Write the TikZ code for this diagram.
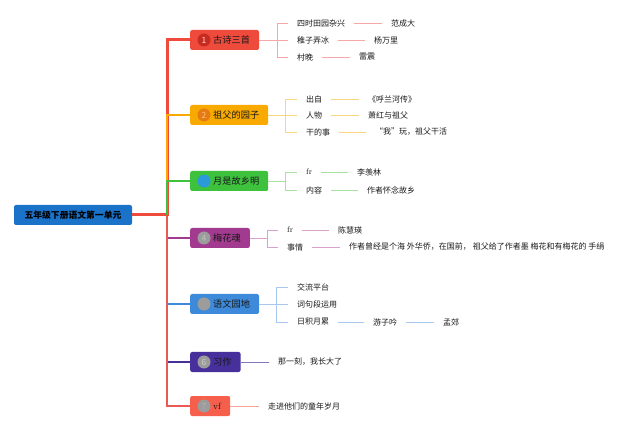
\documentclass[tikz,border=0pt]{standalone}
\usepackage{fontspec}
\newfontfamily\cjk{Noto Sans CJK SC}
\definecolor{rootblue}{HTML}{1A72C9}
\definecolor{cA}{HTML}{EF4B3D}
\definecolor{cAd}{HTML}{C72A1E}
\definecolor{cAl}{HTML}{F4A8A8}
\definecolor{cB}{HTML}{F8AA00}
\definecolor{cBd}{HTML}{E57C12}
\definecolor{cBl}{HTML}{F8D67E}
\definecolor{cC}{HTML}{3EC23E}
\definecolor{cCd}{HTML}{2A9AD8}
\definecolor{cCl}{HTML}{A8E0A2}
\definecolor{cD}{HTML}{A23A8F}
\definecolor{cDl}{HTML}{D8A2CC}
\definecolor{cE}{HTML}{3D8ADA}
\definecolor{cEl}{HTML}{A8C8EE}
\definecolor{cF}{HTML}{47309B}
\definecolor{cFl}{HTML}{8477C0}
\definecolor{cG}{HTML}{F55F4B}
\definecolor{cGl}{HTML}{F6A496}
\definecolor{dotgray}{HTML}{9C9C9C}
\tikzset{
  root/.style={fill=rootblue, rounded corners=2pt, minimum width=118pt, minimum height=20pt,
    inner sep=0pt, font=\cjk\bfseries\fontsize{8.8}{10}\selectfont, text=black},
  topic/.style={anchor=west, rounded corners=2pt, minimum height=20pt, inner xsep=9pt,
    inner ysep=0pt, font=\cjk\fontsize{9.2}{10}\selectfont, text=black!90},
  dot/.style={circle, minimum size=13pt, inner sep=0pt, font=\cjk\fontsize{8.5}{9}\selectfont},
  leaf/.style={anchor=west, inner xsep=5pt, inner ysep=2pt, font=\cjk\fontsize{8}{9}\selectfont, text=black!90},
  link/.style={shorten <=4pt, shorten >=4pt, line width=0.8pt},
  brace/.style={line width=0.8pt, shorten >=4pt},
}
\begin{document}
\begin{tikzpicture}[x=1pt,y=-1pt]
  \useasboundingbox (0,0) rectangle (640,430);
  % root and the seven topics
  \node[root] (root) at (73,215) {五年级下册语文第一单元};
  \coordinate (hub) at (167,215);
  \node[topic, fill=cA] (t1) at (190,40) {\hspace{14pt}古诗三首};
  \node[topic, fill=cB] (t2) at (190,115) {\hspace{14pt}祖父的园子};
  \node[topic, fill=cC] (t3) at (190,181) {\hspace{14pt}月是故乡明};
  \node[topic, fill=cD] (t4) at (190,238) {\hspace{14pt}梅花魂};
  \node[topic, fill=cE] (t5) at (190,304) {\hspace{14pt}语文园地};
  \node[topic, fill=cF] (t6) at (190,362) {\hspace{14pt}习作};
  \node[topic, fill=cG] (t7) at (190,406) {\hspace{14pt}\rmfamily vf};
  \node[dot, fill=cAd, text=red!15] (d1) at ([xshift=14pt]t1.west) {1};
  \node[dot, fill=cBd, text=orange!50] (d2) at ([xshift=14pt]t2.west) {2};
  \node[dot, fill=cCd] (d3) at ([xshift=14pt]t3.west) {};
  \node[dot, fill=dotgray, text=black!25] (d4) at ([xshift=14pt]t4.west) {4};
  \node[dot, fill=dotgray] (d5) at ([xshift=14pt]t5.west) {};
  \node[dot, fill=dotgray, text=black!20] (d6) at ([xshift=14pt]t6.west) {6};
  \node[dot, fill=dotgray, text=black!30] (d7) at ([xshift=14pt]t7.west) {7};
  % trunk
  \draw[cD, line width=2.5pt] (hub) |- (t4.west);
  \draw[cE, line width=2pt] (hub) |- (t5.west);
  \draw[cF, line width=2.5pt] (hub) |- (t6.west);
  \draw[cG!85!cD, line width=2.2pt] (hub) |- (t7.west);
  \draw[cA, line width=3pt] (root.east) -- (hub) |- (t1.west);
  \draw[cB, line width=1.5pt] (hub) |- (t2.west);
  \draw[cC, line width=1.5pt] (hub) |- (t3.west);

  % 1
  \node[leaf] (c11) at (292,23) {四时田园杂兴};
  \node[leaf] (c11b) at (386,23) {范成大};
  \node[leaf] (c12) at (292,40) {稚子弄冰};
  \node[leaf] (c12b) at (369,40) {杨万里};
  \node[leaf] (c13) at (292,57) {村晚};
  \node[leaf] (c13b) at (354,57) {雷震};
  \draw[cAl, line width=0.8pt] (t1.east) -- ++(18,0) coordinate (k1);
  \foreach \c in {c11,c12,c13}
    \draw[brace, cAl] (k1) |- (\c.west);
  \foreach \a/\b in {c11/c11b,c12/c12b,c13/c13b}
    \draw[link, cAl] (\a) -- (\b);

  % 2
  \node[leaf] (c21) at (301,99) {出自};
  \node[leaf] (c21b) at (363,99) {《呼兰河传》};
  \node[leaf] (c22) at (301,115) {人物};
  \node[leaf] (c22b) at (363,115) {萧红与祖父};
  \node[leaf] (c23) at (301,132) {干的事};
  \node[leaf] (c23b) at (370,132) {“我”玩，祖父干活};
  \draw[cBl, line width=0.8pt] (t2.east) -- ++(17,0) coordinate (k2);
  \foreach \c in {c21,c22,c23}
    \draw[brace, cBl] (k2) |- (\c.west);
  \foreach \a/\b in {c21/c21b,c22/c22b,c23/c23b}
    \draw[link, cBl] (\a) -- (\b);

  % 3
  \node[leaf, font=\rmfamily\fontsize{8}{9}\selectfont] (c31) at (301,172) {fr};
  \node[leaf] (c31b) at (352,172) {李羡林};
  \node[leaf] (c32) at (301,190) {内容};
  \node[leaf] (c32b) at (362,190) {作者怀念故乡};
  \draw[cCl, line width=0.8pt] (t3.east) -- ++(17,0) coordinate (k3);
  \foreach \c in {c31,c32}
    \draw[brace, cCl] (k3) |- (\c.west);
  \foreach \a/\b in {c31/c31b,c32/c32b}
    \draw[link, cCl] (\a) -- (\b);

  % 4
  \node[leaf, font=\rmfamily\fontsize{8}{9}\selectfont] (c41) at (282,230) {fr};
  \node[leaf] (c41b) at (333,230) {陈慧瑛};
  \node[leaf] (c42) at (282,247) {事情};
  \node[leaf] (c42b) at (344,247) {作者曾经是个海 外华侨，在国前， 祖父给了作者墨 梅花和有梅花的 手绢};
  \draw[cDl, line width=0.8pt] (t4.east) -- ++(17,0) coordinate (k4);
  \foreach \c in {c41,c42}
    \draw[brace, cDl] (k4) |- (\c.west);
  \foreach \a/\b in {c41/c41b,c42/c42b}
    \draw[link, cDl] (\a) -- (\b);

  % 5
  \node[leaf] (c51) at (292,287) {交流平台};
  \node[leaf] (c52) at (292,304) {词句段运用};
  \node[leaf] (c53) at (292,322) {日积月累};
  \node[leaf] (c53b) at (368,322) {游子吟};
  \node[leaf] (c53c) at (438,322) {孟郊};
  \draw[cEl, line width=0.8pt] (t5.east) -- ++(17,0) coordinate (k5);
  \foreach \c in {c51,c52,c53}
    \draw[brace, cEl] (k5) |- (\c.west);
  \foreach \a/\b in {c53/c53b,c53b/c53c}
    \draw[link, cEl] (\a) -- (\b);

  % 6 and 7
  \node[leaf] (c61) at (273,362) {那一刻，我长大了};
  \draw[cFl, line width=0.8pt, shorten >=4pt] (t6.east) -- (c61.west);
  \node[leaf] (c71) at (263,406) {走进他们的童年岁月};
  \draw[cGl, line width=0.8pt, shorten >=4pt] (t7.east) -- (c71.west);
\end{tikzpicture}
\end{document}
